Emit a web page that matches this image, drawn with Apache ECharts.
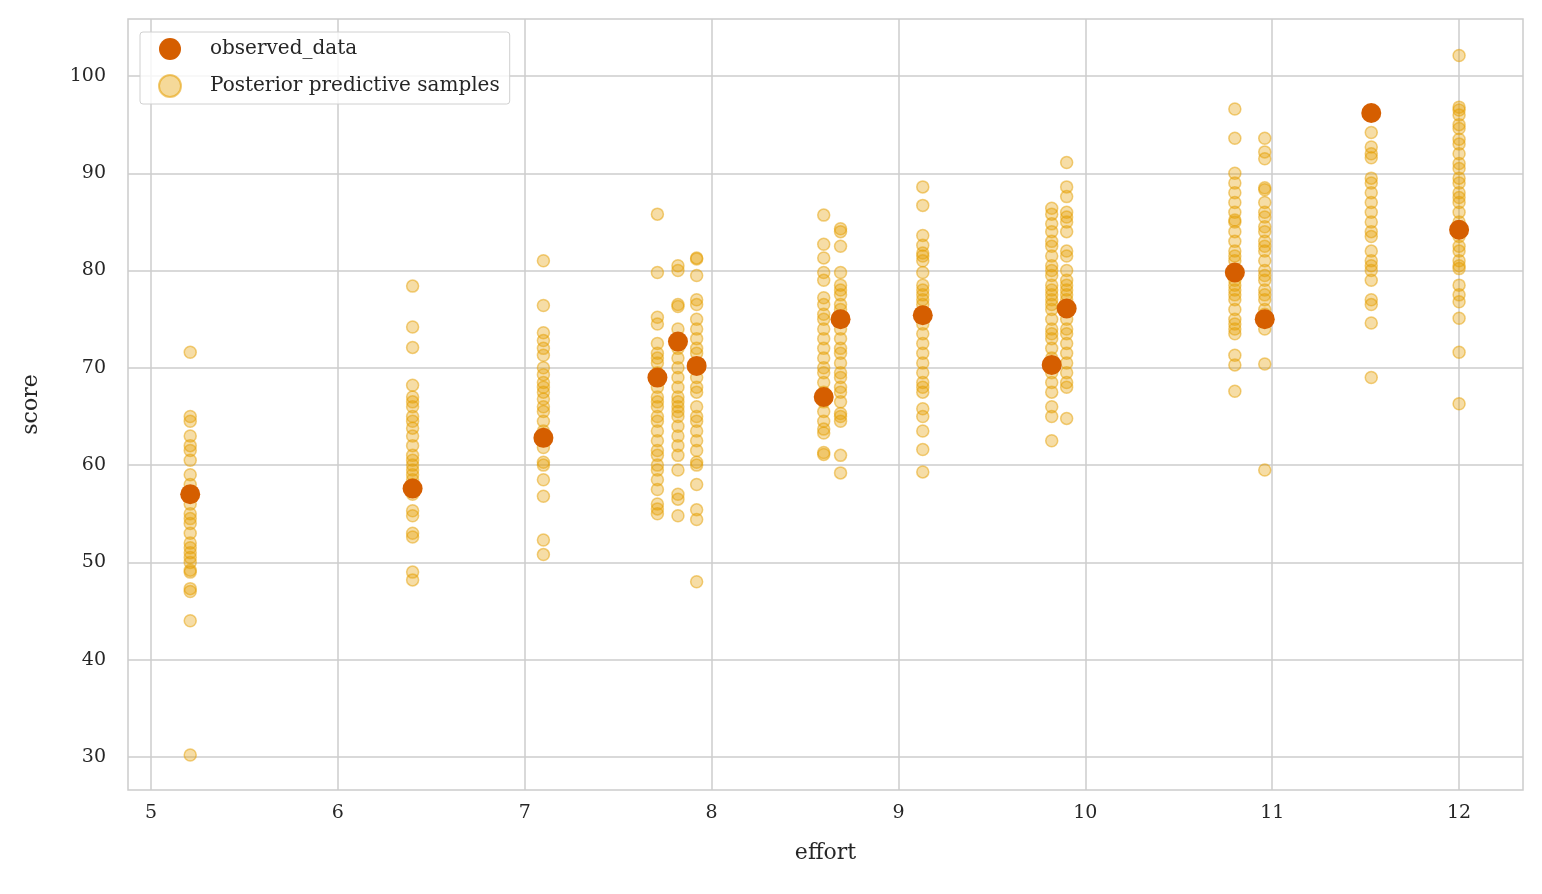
<!DOCTYPE html>
<html>
<head>
<meta charset="utf-8">
<script src="https://cdn.jsdelivr.net/npm/echarts@6/dist/echarts.min.js"></script>
<style>html,body{margin:0;padding:0;background:#fff}#chart{width:1542px;height:894px}</style>
</head>
<body>
<div id="chart"></div>
<script>
// observed effort / score
var obsX = [5.21, 6.4, 7.1, 7.71, 7.82, 7.92, 8.6, 8.69, 9.13, 9.82, 9.9, 10.8, 10.96, 11.53, 12];
var obsY = [57, 57.6, 62.8, 69, 72.7, 70.2, 67, 75, 75.4, 70.3, 76.1, 79.8, 75, 96.2, 84.2];
// posterior predictive samples, one list per effort value (same order as obsX)
var ppc = [
  [71.6,65,64.5,63,62,61.5,60.5,59,58,57,56,55,54.5,54,53,52,51.5,51,50.5,50,49.2,49,47.3,47,44,30.2],
  [78.4,74.2,72.1,68.2,67,66.5,66,65,64.5,63.8,63,62,61,60.5,60,59.5,59,58.5,58,57,55.3,54.8,53,52.6,49,48.2],
  [81,76.4,73.6,72.8,72,71.3,70,69.3,68.5,68,67.5,66.8,66,65.5,64.5,63.5,62.5,61.8,60.3,60,58.5,56.8,52.3,50.8],
  [85.8,79.8,75.2,74.5,72.5,71.5,71,70.5,69.5,68,67,66.5,66,65,64.5,63.5,62.5,61.5,61,60,59.5,58.5,57.5,56,55.5,55],
  [80.5,80,76.5,76.3,74,73,72,71,70,69,68,67,66.5,66,65.5,65,64,63,62,61,59.5,57,56.5,54.8],
  [81.3,81.2,79.5,77,76.5,75,74,73,72,71.5,70,69,68,67.5,66,65,64.5,63.5,62.5,61.5,60.3,60,58,55.4,54.4,48],
  [85.7,82.7,81.3,79.8,79,77.2,76.5,75.5,75,74,73,72,71,70,69.5,68.5,67.5,66.5,65.5,64.5,63.7,63.3,61.3,61.1],
  [84.3,84,82.5,79.8,78.5,78,77.5,76.5,76,75,74,73,72,71.5,70.5,69.5,69,68,67.5,66.5,65.3,65,64.5,61,59.2],
  [88.6,86.7,83.6,82.6,81.8,81.5,81,79.8,78.5,78,77.5,77,76.5,75.5,74.5,73.5,72.5,71.5,70.5,69.5,68.5,68,67.5,65.8,65,63.5,61.6,59.3],
  [86.4,85.8,84.8,84,83,82.5,81.5,80.5,80,79.5,78.5,78,77.5,77,76.5,76,75,74,73.5,73,72,71,69.5,68.5,67.5,66,65,62.5],
  [91.1,88.6,87.6,86,85.5,85,84,82,81.5,80,79,78.5,78,77.5,77,76,75,74,73.5,72.5,71.5,70.5,69.5,68.5,68,64.8],
  [96.6,93.6,90,89,88,87,86,85.2,85,84,83,82,81.5,81,80,79,78.5,78,77.5,77,76,75,74.5,74,73.5,71.3,70.3,67.6],
  [93.6,92.2,91.5,88.5,88.3,87,86,85.5,84.5,84,83,82.5,82,81,80,79.5,79,78,77.5,77,76,75.5,74,70.4,59.5],
  [94.2,92.7,92,91.6,89.5,89,88,87,86,85,84,83.5,82,81,80.5,80,79,77,76.5,74.6,69],
  [102.1,96.8,96.5,96,95,94.6,93.5,93,92,91,90.5,89.5,89,88,87.5,87,86,85,84.5,83.5,82.5,82,81,80.5,80.2,78.5,77.5,76.8,75.1,71.6,66.3]
];
var xTicks = [5, 6, 7, 8, 9, 10, 11, 12];
var yTicks = [30, 40, 50, 60, 70, 80, 90, 100];

var obsData = obsX.map(function (x, i) { return [x, obsY[i]]; });
var ppcData = [];
ppc.forEach(function (list, i) {
  list.forEach(function (v) { ppcData.push([obsX[i], v]); });
});

var font = 'DejaVu Serif';
var chart = echarts.init(document.getElementById('chart'));
chart.setOption({
  backgroundColor: '#fff',
  textStyle: { fontFamily: font },
  animation: false,
  grid: { left: 128, top: 19, right: 19, bottom: 104, show: true, borderColor: '#cccccc', borderWidth: 1.5 },
  legend: {
    left: 140, top: 32, orient: 'vertical', itemGap: 14,
    padding: [6, 10, 6, 18],
    borderColor: '#d0d0d0', borderWidth: 1, borderRadius: 3,
    backgroundColor: 'rgba(255,255,255,0.8)',
    itemWidth: 22, itemHeight: 22,
    textStyle: { fontFamily: font, fontSize: 20, color: '#262626', padding: [0, 0, 0, 24] },
    data: [
      { name: 'observed_data', icon: 'circle' },
      { name: 'Posterior predictive samples', icon: 'circle', itemStyle: { color: 'rgba(230,159,0,0.4)', borderColor: 'rgba(230,159,0,0.55)', opacity: 1 } }
    ]
  },
  xAxis: {
    type: 'value', min: 4.877, max: 12.342,
    name: 'effort', nameLocation: 'middle', nameGap: 52,
    nameTextStyle: { fontFamily: font, fontSize: 22, color: '#262626' },
    axisLine: { show: false }, axisTick: { show: false, customValues: xTicks },
    axisLabel: { customValues: xTicks, fontFamily: font, fontSize: 19, color: '#262626', margin: 14 },
    splitLine: { show: true, lineStyle: { color: '#cccccc', width: 1.5 } }
  },
  yAxis: {
    type: 'value', min: 26.6, max: 105.86,
    name: 'score', nameLocation: 'middle', nameGap: 86,
    nameTextStyle: { fontFamily: font, fontSize: 22, color: '#262626' },
    axisLine: { show: false }, axisTick: { show: false, customValues: yTicks },
    axisLabel: { customValues: yTicks, fontFamily: font, fontSize: 19, color: '#262626', margin: 22 },
    splitLine: { show: true, lineStyle: { color: '#cccccc', width: 1.5 } }
  },
  series: [
    {
      name: 'Posterior predictive samples', type: 'scatter', data: ppcData, symbolSize: 12,
      itemStyle: { color: 'rgba(230,159,0,0.35)', borderColor: 'rgba(230,159,0,0.5)', borderWidth: 1.5, opacity: 1 },
      z: 2
    },
    {
      name: 'observed_data', type: 'scatter', data: obsData, symbolSize: 20,
      itemStyle: { color: '#D55E00', opacity: 1 }, z: 3
    }
  ]
});
</script>
</body>
</html>
